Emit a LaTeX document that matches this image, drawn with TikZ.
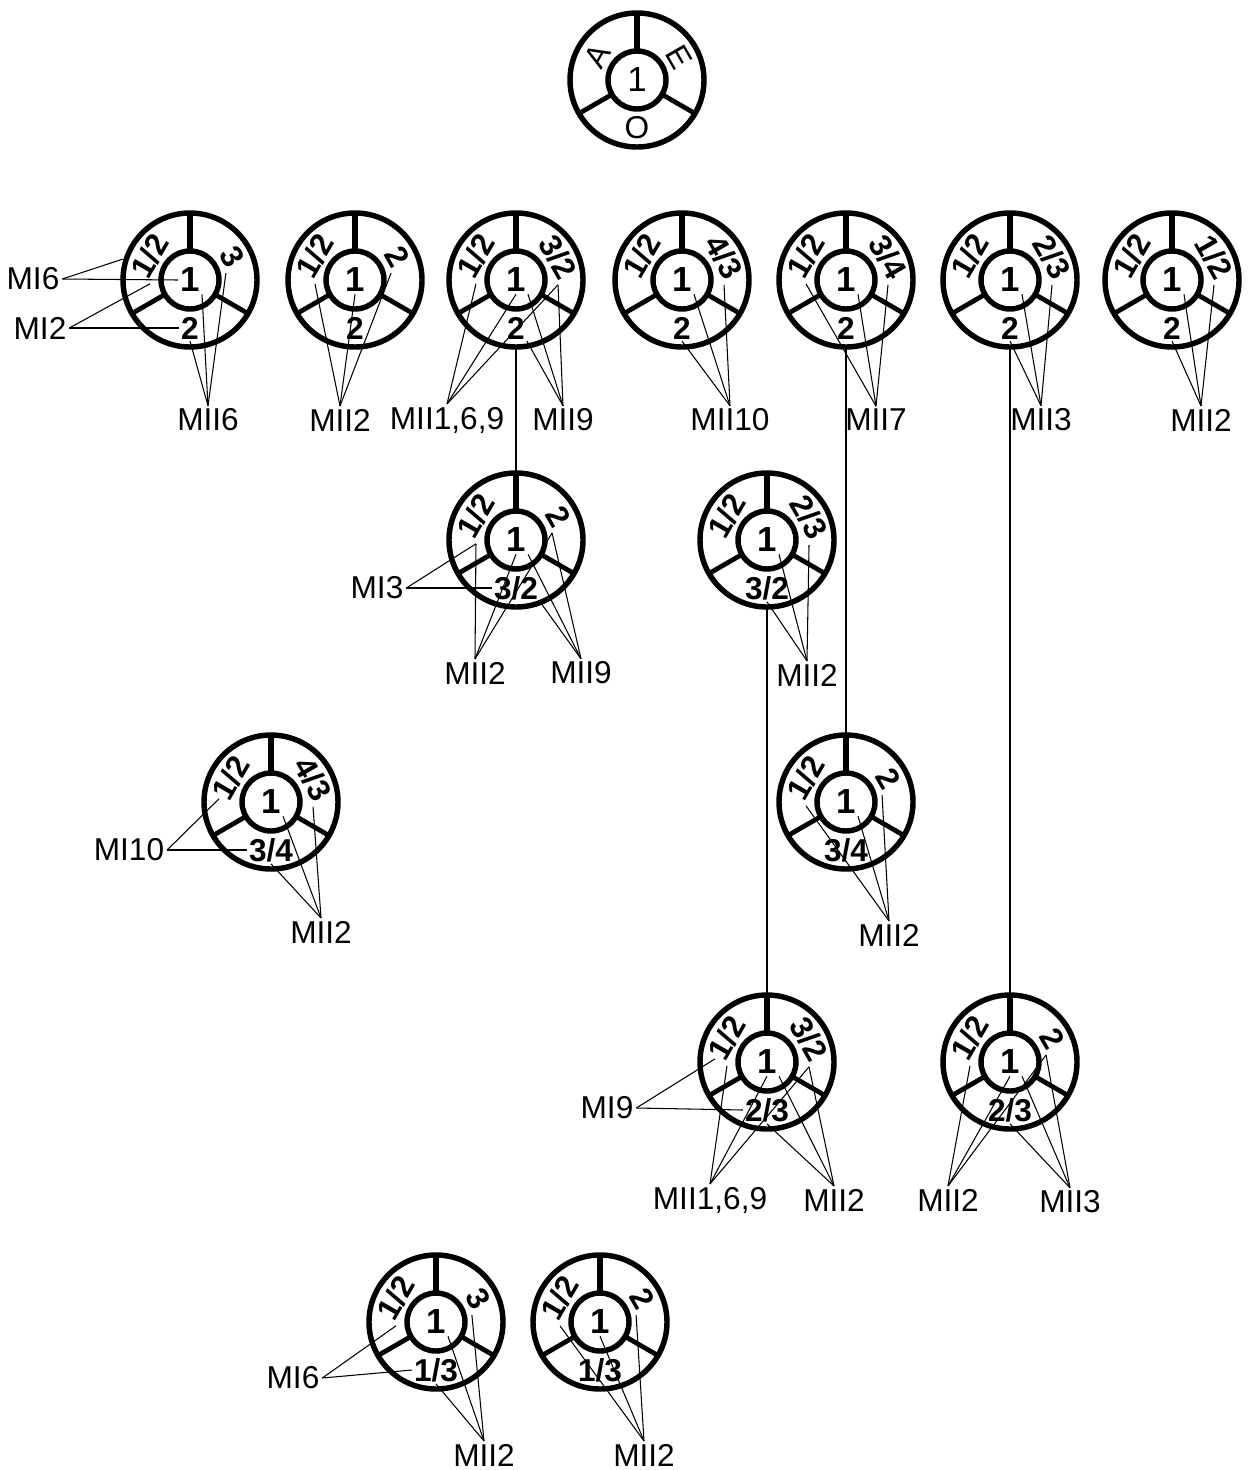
\documentclass[tikz,border=0pt]{standalone}
\usepackage{fontspec}
\setmainfont{Liberation Sans}

\begin{document}
\begin{tikzpicture}[x=0.02cm, y=-0.02cm,
  rim/.style={line width=3.1pt},
  spoke/.style={line width=2.7pt},
  lead/.style={line width=0.6pt},
  link/.style={line width=0.7pt},
  num/.style={font=\fontsize{18}{20}\selectfont\bfseries, inner sep=1pt},
  plain/.style={font=\fontsize{18}{20}\selectfont, inner sep=1pt},
  tag/.style={font=\fontsize{18}{20}\selectfont, inner sep=1.5pt},
]
  \useasboundingbox (0,0) rectangle (1250,1470);
  % wheels: name / centre / upper left / upper right / bottom / style
  \foreach \n/\x/\y/\ul/\ur/\bt/\st in {
    w0/637/80/A/E/O/plain,
    w1/190/280/{1/2}/3/2/num,
    w2/355/280/{1/2}/2/2/num,
    w3/516/280/{1/2}/{3/2}/2/num,
    w4/682/280/{1/2}/{4/3}/2/num,
    w5/846/280/{1/2}/{3/4}/2/num,
    w6/1010/280/{1/2}/{2/3}/2/num,
    w7/1172/280/{1/2}/{1/2}/2/num,
    w8/516/540/{1/2}/2/{3/2}/num,
    w9/767/540/{1/2}/{2/3}/{3/2}/num,
    w10/271/802/{1/2}/{4/3}/{3/4}/num,
    w11/846/802/{1/2}/2/{3/4}/num,
    w12/767/1062/{1/2}/{3/2}/{2/3}/num,
    w13/1010/1062/{1/2}/2/{2/3}/num,
    w14/436/1322/{1/2}/3/{1/3}/num,
    w15/600/1322/{1/2}/2/{1/3}/num}
  {
    \begin{scope}[shift={(\x,\y)}]
      \draw[rim] (0,0) circle (67);
      \draw[rim] (0,0) circle (29);
      \draw[spoke, line width=3.4pt] (0,-29) -- (0,-67);
      \draw[spoke] (-25.1,14.5) -- (-58,33.5);
      \draw[spoke] (25.1,14.5) -- (58,33.5);
      \node[\st, scale=1.1] (\n-c) at (0,0) {1};
      \node[\st, rotate=60] (\n-l) at (-40,-24) {\ul};
      \node[\st, rotate=-60] (\n-r) at (42,-23) {\ur};
      \node[\st] (\n-b) at (0,48) {\bt};
      \coordinate (\n-top) at (0,-67);
      \coordinate (\n-bot) at (0,67);
    \end{scope}
  }

  % links between wheels
  \draw[link] (w3-bot) -- (w8-top);
  \draw[link] (w5-bot) -- (w11-top);
  \draw[link] (w6-bot) -- (w13-top);
  \draw[link] (w9-bot) -- (w12-top);

  % row 1
  \coordinate (w1-rim) at (123,259);
  \node[tag] (w1-mi6) at (33,279) {MI6};
  \node[tag] (w1-mi2) at (40,328) {MI2};
  \node[tag] (w1-mii6) at (208,420) {MII6};
  \foreach \e in {w1-rim, w1-c.west} \draw[lead] (w1-mi6.east) -- (\e);
  \foreach \e in {w1-l.south west, w1-b.west} \draw[lead] (w1-mi2.east) -- (\e);
  \foreach \e in {w1-b.south, w1-c.south east, w1-r.south east} \draw[lead] (w1-mii6.north) -- (\e);

  \node[tag] (w2-mii2) at (340,420) {MII2};
  \foreach \e in {w2-l.south west, w2-c.south, w2-r.south east} \draw[lead] (w2-mii2.north) -- (\e);

  \node[tag] (w3-mii169) at (447,420) {MII1,6,9};
  \node[tag] (w3-mii9) at (563,420) {MII9};
  \foreach \e in {w3-l.south west, w3-c.south, w3-r.south east} \draw[lead] (w3-mii169.north) -- (\e);
  \foreach \e in {w3-c.south east, w3-b.south east, w3-r.south east} \draw[lead] (w3-mii9.north) -- (\e);

  \node[tag] (w4-mii10) at (730,420) {MII10};
  \foreach \e in {w4-b.south, w4-c.south east, w4-r.south east} \draw[lead] (w4-mii10.north) -- (\e);

  \node[tag] (w5-mii7) at (876,420) {MII7};
  \foreach \e in {w5-l.south west, w5-c.south east, w5-r.south east} \draw[lead] (w5-mii7.north) -- (\e);

  \node[tag] (w6-mii3) at (1041,420) {MII3};
  \foreach \e in {w6-b.south, w6-c.south east, w6-r.south east} \draw[lead] (w6-mii3.north) -- (\e);

  \node[tag] (w7-mii2) at (1201,420) {MII2};
  \foreach \e in {w7-b.south, w7-c.south east, w7-r.south east} \draw[lead] (w7-mii2.north) -- (\e);

  % row 2
  \node[tag] (w8-mi3) at (377,588) {MI3};
  \node[tag] (w8-mii2) at (475,673) {MII2};
  \node[tag] (w8-mii9) at (581,673) {MII9};
  \foreach \e in {w8-l.south west, w8-b.west} \draw[lead] (w8-mi3.east) -- (\e);
  \foreach \e in {w8-l.south west, w8-c.south, w8-r.south east} \draw[lead] (w8-mii2.north) -- (\e);
  \foreach \e in {w8-c.south east, w8-b.south east, w8-r.south east} \draw[lead] (w8-mii9.north) -- (\e);

  \node[tag] (w9-mii2) at (807,675) {MII2};
  \foreach \e in {w9-b.south, w9-c.south east, w9-r.south east} \draw[lead] (w9-mii2.north) -- (\e);

  % row 3
  \node[tag] (w10-mi10) at (129,850) {MI10};
  \node[tag] (w10-mii2) at (321,932) {MII2};
  \foreach \e in {w10-l.west, w10-b.west} \draw[lead] (w10-mi10.east) -- (\e);
  \foreach \e in {w10-b.south, w10-c.south east, w10-r.south east} \draw[lead] (w10-mii2.north) -- (\e);

  \node[tag] (w11-mii2) at (889,935) {MII2};
  \foreach \e in {w11-l.south west, w11-c.south east, w11-r.south east} \draw[lead] (w11-mii2.north) -- (\e);

  % row 4
  \node[tag] (w12-mi9) at (607,1108) {MI9};
  \node[tag] (w12-mii169) at (710,1200) {MII1,6,9};
  \node[tag] (w12-mii2) at (834,1200) {MII2};
  \foreach \e in {w12-l.west, w12-b.west} \draw[lead] (w12-mi9.east) -- (\e);
  \foreach \e in {w12-l.south west, w12-c.south, w12-r.south east} \draw[lead] (w12-mii169.north) -- (\e);
  \foreach \e in {w12-b.south, w12-c.south east, w12-r.south east} \draw[lead] (w12-mii2.north) -- (\e);

  \node[tag] (w13-mii2) at (948,1200) {MII2};
  \node[tag] (w13-mii3) at (1070,1202) {MII3};
  \foreach \e in {w13-l.south west, w13-c.south, w13-r.south east} \draw[lead] (w13-mii2.north) -- (\e);
  \foreach \e in {w13-b.south, w13-c.south east, w13-r.south east} \draw[lead] (w13-mii3.north) -- (\e);

  % row 5
  \node[tag] (w14-mi6) at (293,1378) {MI6};
  \node[tag] (w14-mii2) at (484,1455) {MII2};
  \foreach \e in {w14-l.south west, w14-b.west} \draw[lead] (w14-mi6.east) -- (\e);
  \foreach \e in {w14-b.south, w14-c.south east, w14-r.south east} \draw[lead] (w14-mii2.north) -- (\e);

  \node[tag] (w15-mii2) at (644,1455) {MII2};
  \foreach \e in {w15-l.south west, w15-c.south, w15-r.south east} \draw[lead] (w15-mii2.north) -- (\e);
\end{tikzpicture}
\end{document}
